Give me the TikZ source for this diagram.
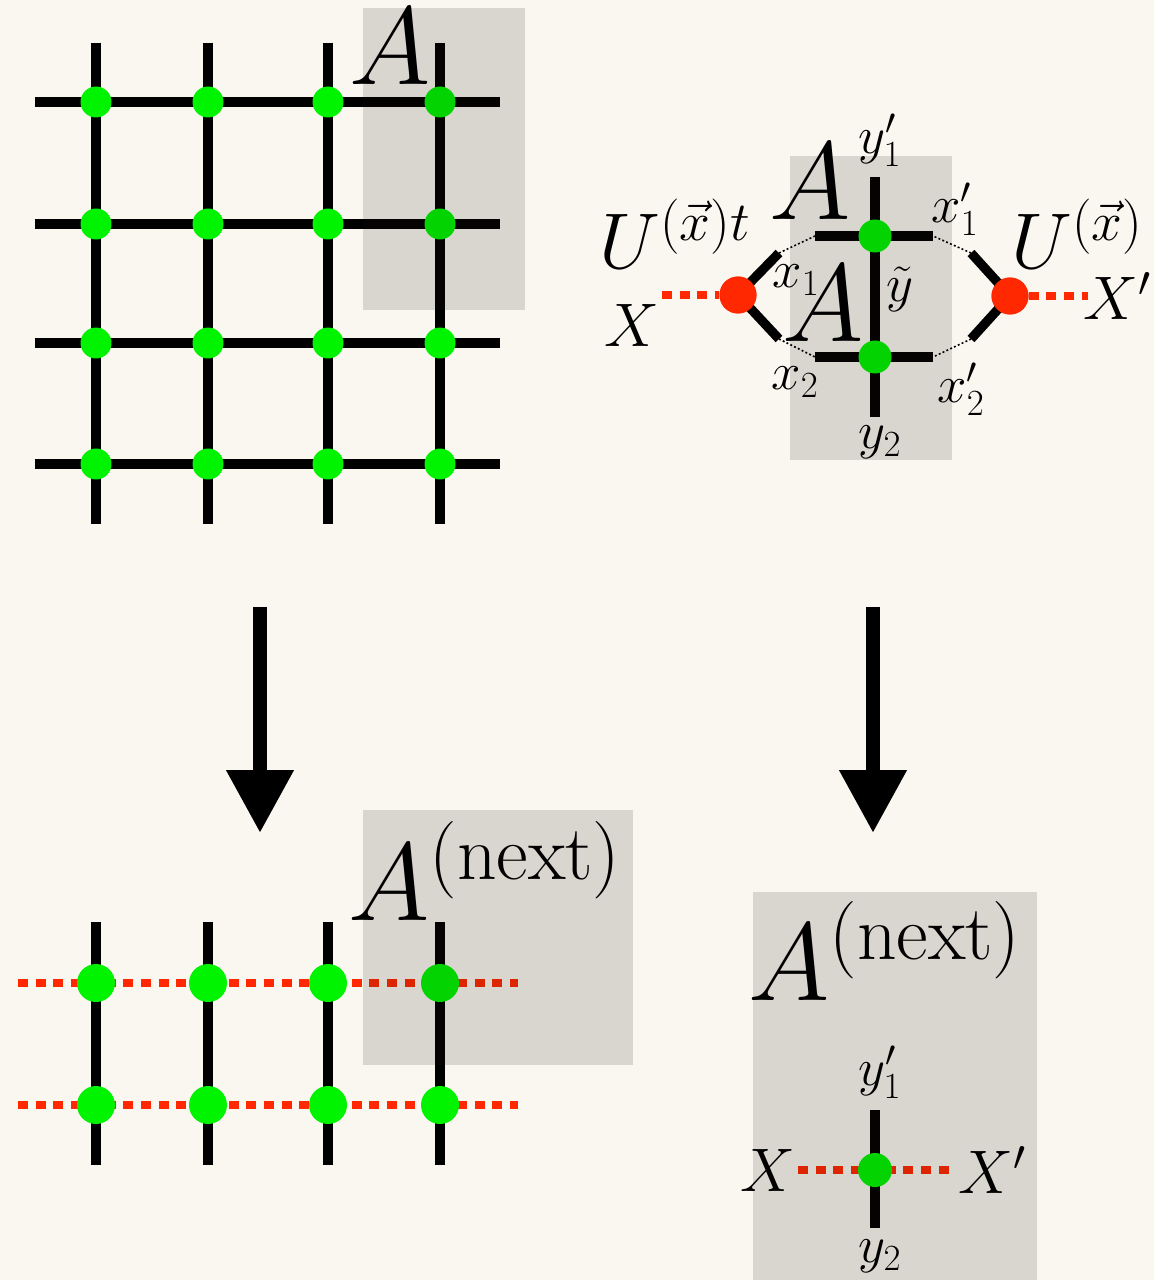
\RequirePackage{fix-cm}
\documentclass[tikz,border=0pt]{standalone}
\usepackage{amsmath}
\usetikzlibrary{arrows.meta, positioning}

\begin{document}
\begin{tikzpicture}[x=0.02cm, y=-0.02cm]

% ---------------------------------------------------------------- colours
\definecolor{bgcol}{HTML}{FAF6F0}
\definecolor{sitecol}{HTML}{00F400}   % the A tensors
\definecolor{gatecol}{HTML}{FF2800}   % the U gates and the fused legs
\definecolor{shadecol}{HTML}{1E1A14}

\tikzset{
    bond/.style={line width=5.3pt, black},
    thinbond/.style={line width=0.9pt, black, dash pattern=on 1.1pt off 1.3pt},
    redleg/.style={line width=5pt, gatecol, dash pattern=on 5.7pt off 4.3pt},
    site/.style={circle, fill=sitecol, inner sep=0pt, minimum size=0.62cm},
    gate/.style={circle, fill=gatecol, inner sep=0pt, minimum size=0.74cm},
    shade/.style={fill=shadecol, fill opacity=0.15},
    biglab/.style={font=\fontsize{63}{65}\selectfont, inner sep=0pt},
    midlab/.style={font=\fontsize{45}{47}\selectfont},
    xlab/.style={font=\fontsize{35}{37}\selectfont},
    leglab/.style={font=\fontsize{30}{32}\selectfont},
    downarrow/.style={line width=0.28cm, -{Triangle[width=1.28cm, length=1.26cm]}},
}

% canvas
\fill[bgcol] (0,0) rectangle (1154,1280);
\useasboundingbox (0,0) rectangle (1154,1280);

% ----------------------------------------------------------------------
% TOP LEFT: the full 4x4 lattice
% ----------------------------------------------------------------------
\foreach \x [count=\i] in {96,208,328,440} {
    \coordinate (gt\i) at (\x,43);
    \coordinate (gb\i) at (\x,524);
}
\foreach \y [count=\j] in {102,224,343,464} {
    \coordinate (gl\j) at (35,\y);
    \coordinate (gr\j) at (500,\y);
}
\foreach \i in {1,...,4}
    \draw[bond] (gt\i) -- (gb\i);
\foreach \j in {1,...,4}
    \draw[bond] (gl\j) -- (gr\j);
\foreach \x [count=\i] in {96,208,328,440}
    \foreach \y [count=\j] in {102,224,343,464}
        \node[site] (g\i\j) at (\x,\y) {};

\fill[shade] (363,8) rectangle (525,310);
\node[biglab] (gA) at (390,47) {$A$};

% ----------------------------------------------------------------------
% TOP RIGHT: two A's joined by the gates
% ----------------------------------------------------------------------
\coordinate (vt) at (875,177);
\coordinate (vb) at (875,417);
\coordinate (h1l) at (815,236);
\coordinate (h1r) at (933,236);
\coordinate (h2l) at (815,357);
\coordinate (h2r) at (933,357);
\coordinate (kl1) at (779,253);
\coordinate (kl2) at (779,339);
\coordinate (kr1) at (971,253);
\coordinate (kr2) at (971,339);
\coordinate (xl) at (662,295);
\coordinate (xr) at (1088,296);

\draw[bond] (vt) -- (vb);
\draw[bond] (h1l) -- (h1r);
\draw[bond] (h2l) -- (h2r);
\node[site, minimum size=0.66cm] (s1) at (875,236) {};
\node[site, minimum size=0.66cm] (s2) at (875,357) {};

\node[gate] (ul) at (738,295) {};
\node[gate] (ur) at (1010,296) {};
\draw[bond] (ul.center) -- (kl1);
\draw[bond] (ul.center) -- (kl2);
\draw[bond] (ur.center) -- (kr1);
\draw[bond] (ur.center) -- (kr2);
\draw[thinbond] (kl1) -- (h1l);
\draw[thinbond] (kl2) -- (h2l);
\draw[thinbond] (kr1) -- (h1r);
\draw[thinbond] (kr2) -- (h2r);
\draw[redleg] (xl) -- (ul.west);
\draw[redleg] (ur.east) -- (xr);
\node[gate] at (ul) {};
\node[gate] at (ur) {};

\fill[shade] (790,156) rectangle (952,460);

\node[biglab] (tA1) at (810,182) {$A$};
\node[biglab] (tA2) at (823,304) {$A$};
\node[leglab] (ly1) at (880,140) {$y_1'$};
\node[leglab] (ly2) at (880,442) {$y_2$};
\node[leglab] (lyt) at (900,289) {$\tilde{y}$};
\node[leglab] (lx1) at (796,280) {$x_1$};
\node[leglab] (lx2) at (795,382) {$x_2$};
\node[leglab] (lx1p) at (955,209) {$x_1'$};
\node[leglab] (lx2p) at (961,389) {$x_2'$};
\node[midlab, anchor=base west, inner sep=0pt] (lUt) at (599,269) {$U^{(\vec{x})t}$};
\node[midlab, anchor=base west, inner sep=0pt] (lU) at (1011,269) {$U^{(\vec{x})}$};
\node[xlab] (lX) at (632,325) {$X$};
\node[xlab] (lXp) at (1117,296) {$X'$};

% ----------------------------------------------------------------------
% arrows
% ----------------------------------------------------------------------
\coordinate (al1) at (260,607);
\coordinate (al2) at (260,833);
\coordinate (ar1) at (873,607);
\coordinate (ar2) at (873,833);
\draw[downarrow] (al1) -- (al2);
\draw[downarrow] (ar1) -- (ar2);

% ----------------------------------------------------------------------
% BOTTOM LEFT: lattice after one row pair is contracted
% ----------------------------------------------------------------------
\foreach \x [count=\i] in {96,208,328,440} {
    \coordinate (nt\i) at (\x,922);
    \coordinate (nb\i) at (\x,1165);
}
\foreach \y [count=\j] in {983,1105} {
    \coordinate (nl\j) at (18,\y);
    \coordinate (nr\j) at (518,\y);
}
\foreach \i in {1,...,4}
    \draw[bond] (nt\i) -- (nb\i);
\foreach \j in {1,2}
    \draw[redleg] (nl\j) -- (nr\j);
\foreach \x [count=\i] in {96,208,328,440}
    \foreach \y [count=\j] in {983,1105}
        \node[site, minimum width=0.66cm, minimum height=0.76cm] (n\i\j) at (\x,\y) {};

\fill[shade] (363,810) rectangle (633,1065);
\node[biglab, anchor=base west] (nA) at (348,920) {$A^{(\mathrm{next})}$};

% ----------------------------------------------------------------------
% BOTTOM RIGHT: the new A
% ----------------------------------------------------------------------
\coordinate (wt) at (875,1110);
\coordinate (wb) at (875,1228);
\coordinate (wl) at (798,1170);
\coordinate (wr) at (954,1170);
\draw[bond] (wt) -- (wb);
\draw[redleg] (wl) -- (wr);
\node[site, minimum size=0.68cm] (w) at (875,1170) {};

\fill[shade] (753,892) rectangle (1037,1280);
\node[biglab, anchor=base west] (wA) at (748,1000) {$A^{(\mathrm{next})}$};
\node[leglab] (wy1) at (880,1072) {$y_1'$};
\node[leglab] (wy2) at (880,1256) {$y_2$};
\node[xlab] (wX) at (768,1170) {$X$};
\node[xlab] (wXp) at (992,1170) {$X'$};

\end{tikzpicture}
\end{document}
